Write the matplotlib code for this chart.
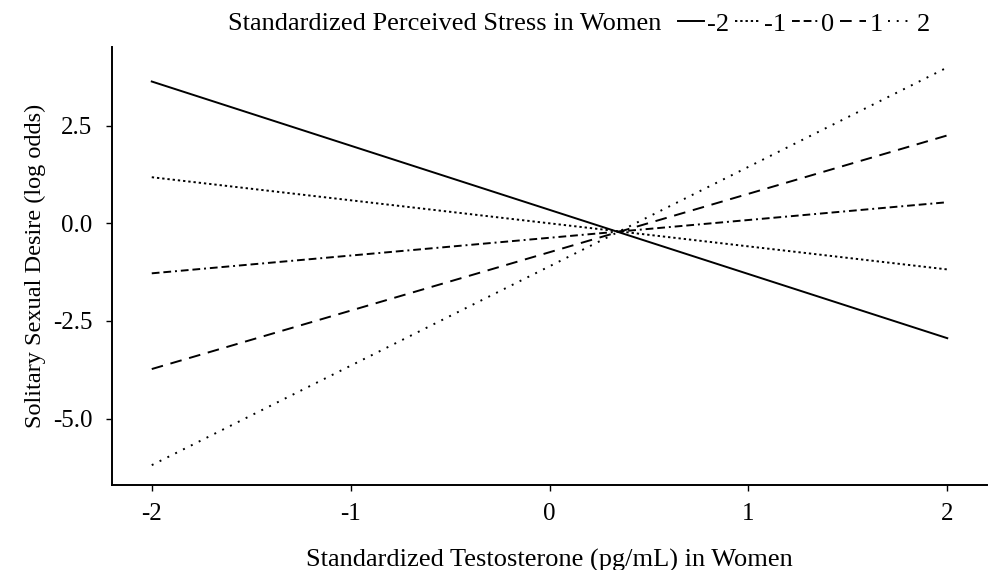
import numpy as np
import matplotlib.pyplot as plt

plt.rcParams['font.family'] = ['Liberation Serif', 'DejaVu Serif']

# testosterone (standardized) endpoints
x_vals = [-2, 2]
# perceived stress levels and their predicted log odds at x = -2 and x = 2
stress_levels = ['-2', '-1', '0', '1', '2']
y_start = [3.63, 1.18, -1.28, -3.73, -6.19]
y_end = [-2.94, -1.18, 0.54, 2.25, 3.99]

styles = ['-', (0, (1.2, 1.5)), (0, (4, 2, 4, 2, 1, 2)), (0, (6, 4)), (0, (1, 3.5))]

fig = plt.figure(figsize=(9.91, 5.70), dpi=100)
ax = fig.add_axes([0.113, 0.149, 0.883, 0.769])

handles = []
for lvl, y0, y1, ls in zip(stress_levels, y_start, y_end, styles):
    ln, = ax.plot(x_vals, [y0, y1], color='black', lw=1.4, linestyle=ls, label=lvl)
    handles.append(ln)

ax.set_xlim(-2.2, 2.2)
ax.set_ylim(-6.7, 4.52)
ax.set_xticks([-2, -1, 0, 1, 2])
ax.set_xticklabels(['-2', '-1', '0', '1', '2'])
ax.set_yticks([2.5, 0.0, -2.5, -5.0])
ax.set_yticklabels(['2.5', '0.0', '-2.5', '-5.0'])
ax.tick_params(labelsize=18, length=4, width=1)
ax.tick_params(axis='x', pad=9)
ax.tick_params(axis='y', pad=10)
for s in ['top', 'right']:
    ax.spines[s].set_visible(False)
for s in ['left', 'bottom']:
    ax.spines[s].set_linewidth(1.4)

ax.set_xlabel('Standardized Testosterone (pg/mL) in Women', fontsize=19, labelpad=17)
ax.set_ylabel('Solitary Sexual Desire (log odds)', fontsize=17.5, labelpad=5)

fig.text(0.23, 0.958, 'Standardized Perceived Stress in Women', fontsize=19,
         ha='left', va='center')
fig.legend(handles=handles, labels=stress_levels, ncol=5, frameon=False,
           loc='center left', bbox_to_anchor=(0.684, 0.958), fontsize=19,
           handlelength=1.0, handletextpad=0.12, columnspacing=0.2,
           borderaxespad=0, borderpad=0)

fig.savefig('out.png', dpi=100)
